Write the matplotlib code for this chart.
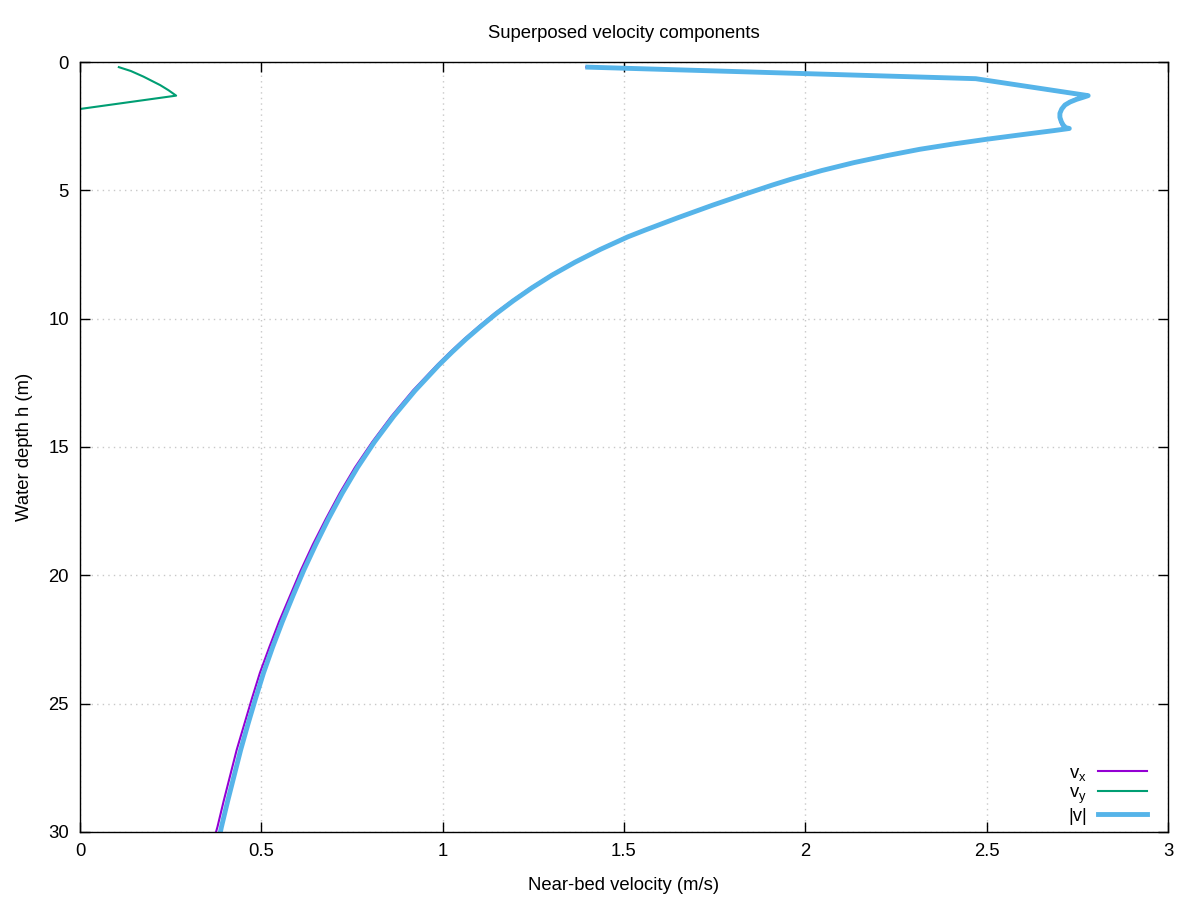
import matplotlib
matplotlib.use("Agg")
import matplotlib.pyplot as plt
from matplotlib.ticker import FormatStrFormatter, MultipleLocator

plt.rcParams['font.family'] = ['Liberation Sans', 'DejaVu Sans']

# Depth below surface (m) for vx and |v|
depth = [0.2, 0.65, 1.31, 1.376, 1.455, 1.558, 1.675, 1.831, 2.0, 2.156,
         2.325, 2.454, 2.558, 2.59, 2.675, 2.84, 3.01, 3.195, 3.40, 3.65,
         3.92, 4.23, 4.57, 4.79, 5.16, 5.58, 6.06, 6.55, 6.81, 7.3, 7.8,
         8.3, 8.8, 9.3, 9.8, 10.3, 10.8, 11.3, 11.8, 12.8, 13.8, 14.8, 15.8,
         16.8, 17.8, 18.8, 19.8, 20.8, 21.8, 22.8, 23.8, 24.8, 25.8, 26.8,
         27.8, 28.8, 29.8, 30.0]

# magnitude |v| (m/s)
speed = [1.40, 2.47, 2.78, 2.766, 2.748, 2.730, 2.716, 2.707, 2.702, 2.702,
         2.706, 2.711, 2.718, 2.728, 2.684, 2.592, 2.500, 2.408, 2.316, 2.224,
         2.134, 2.045, 1.960, 1.910, 1.831, 1.744, 1.650, 1.558, 1.511, 1.435,
         1.365, 1.302, 1.246, 1.195, 1.148, 1.105, 1.064, 1.026, 0.990, 0.924,
         0.865, 0.812, 0.765, 0.723, 0.685, 0.650, 0.617, 0.587, 0.558, 0.531,
         0.506, 0.484, 0.463, 0.443, 0.425, 0.407, 0.390, 0.387]

# streamwise component vx (m/s)
vx = [1.396, 2.463, 2.767, 2.756, 2.741, 2.726, 2.715, 2.707, 2.7015, 2.7005,
      2.703, 2.707, 2.714, 2.724, 2.680, 2.588, 2.496, 2.404, 2.312, 2.220,
      2.130, 2.041, 1.957, 1.907, 1.828, 1.740, 1.646, 1.554, 1.507, 1.431,
      1.361, 1.298, 1.242, 1.191, 1.143, 1.100, 1.059, 1.021, 0.985, 0.918,
      0.859, 0.806, 0.758, 0.716, 0.678, 0.642, 0.609, 0.579, 0.549, 0.522,
      0.496, 0.474, 0.453, 0.432, 0.414, 0.396, 0.379, 0.375]

# cross component vy (m/s), own sampling
depth_y = [0.2, 0.35, 0.57, 0.75, 0.9, 1.1, 1.31, 1.83, 2.3, 2.59, 3.0, 4.0,
           5.0, 7.0, 10.0, 15.0, 20.0, 25.0, 30.0]
vy = [0.107, 0.14, 0.175, 0.20, 0.221, 0.244, 0.265, 0.0, -0.12, -0.15,
      -0.14, -0.125, -0.113, -0.108, -0.102, -0.10, -0.099, -0.098, -0.095]

fig = plt.figure(figsize=(12, 9), dpi=100)
ax = fig.add_axes([0.0667, 0.0756, 0.9066, 0.8555])

ax.plot(vx, depth, color='#9400D3', lw=1.5, label='v$_\\mathregular{x}$')
ax.plot(vy, depth_y, color='#009E73', lw=1.5, label='v$_\\mathregular{y}$')
ax.plot(speed, depth, color='#56B4E9', lw=3.5, label='|v|',
        solid_joinstyle='round')

ax.set_xlim(0, 3)
ax.set_ylim(30, 0)
ax.xaxis.set_major_locator(MultipleLocator(0.5))
ax.yaxis.set_major_locator(MultipleLocator(5))
ax.xaxis.set_major_formatter(FormatStrFormatter('%g'))
ax.tick_params(direction='in', length=7, width=1, top=True, right=True,
               labelsize=13.3, pad=8)
ax.grid(True, color='#c8c8c8', linestyle=(0, (1, 3)), lw=1)
for s in ax.spines.values():
    s.set_linewidth(1)

ax.set_title('Superposed velocity components', fontsize=13.3, pad=17)
ax.set_xlabel('Near-bed velocity (m/s)', fontsize=13.3, labelpad=12)
ax.set_ylabel('Water depth h (m)', fontsize=13.3, labelpad=11)

ax.legend(loc='lower right', bbox_to_anchor=(0.9875, 0.0), frameon=False,
          markerfirst=False, fontsize=13.3, handlelength=2.65,
          labelspacing=0.1, borderaxespad=0, handletextpad=0.6)

fig.savefig('out.png', dpi=100)
